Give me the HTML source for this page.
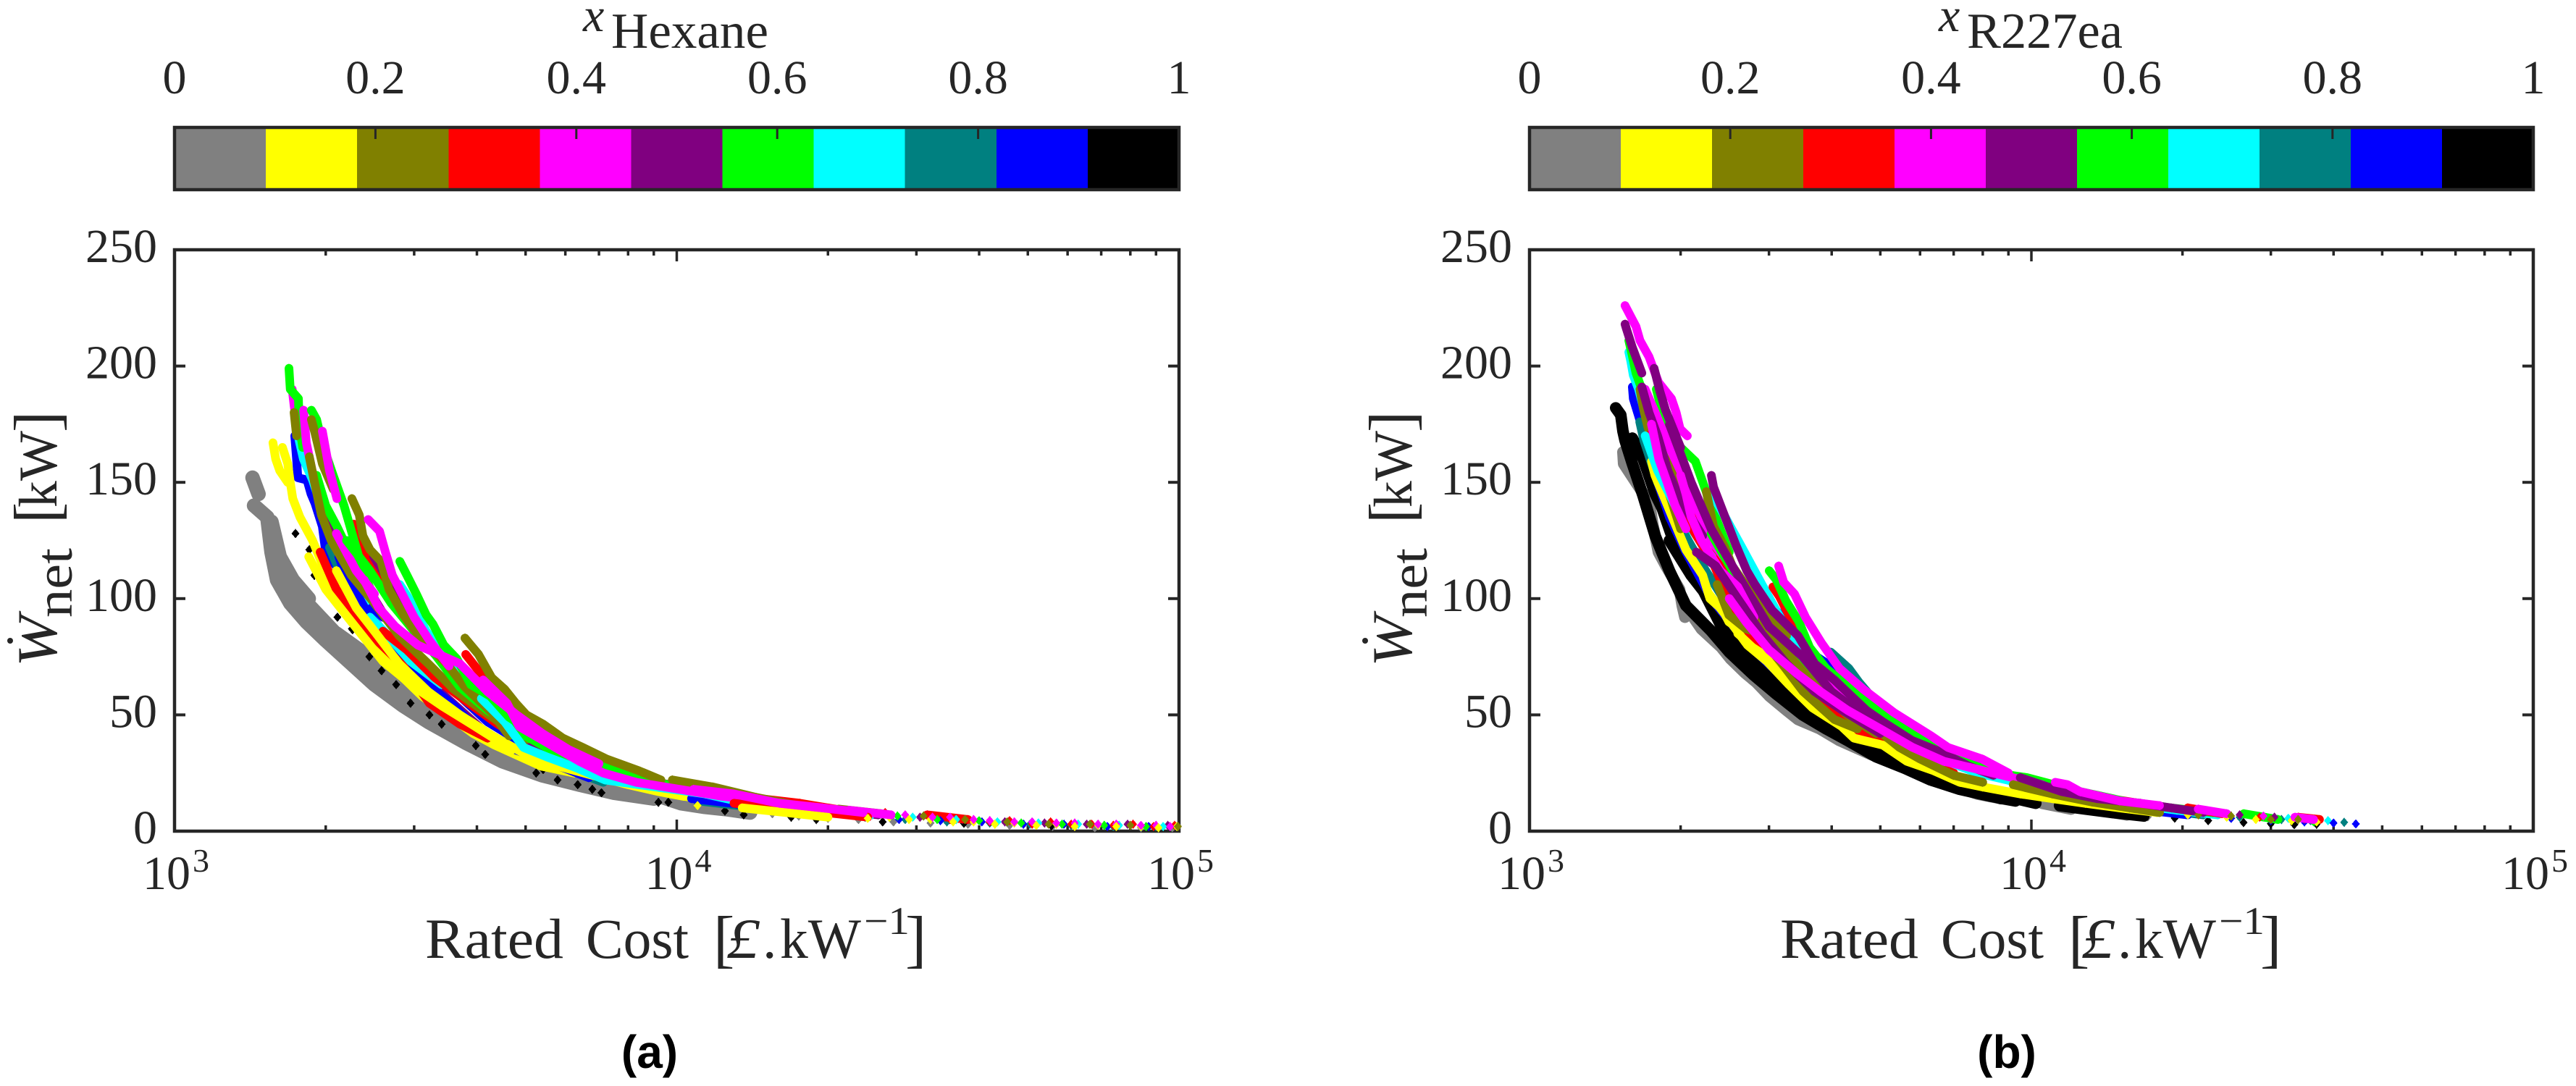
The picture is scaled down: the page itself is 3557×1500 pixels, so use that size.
<!DOCTYPE html>
<html lang="en">
<head>
<meta charset="utf-8">
<title>Net power versus rated cost, coloured by mixture composition</title>
<style>
html,body{margin:0;padding:0;background:#fff;}
svg{display:block;}
text{font-family:"Liberation Serif",serif;fill:#262626;}
.panel-tag{font-family:"Liberation Sans",sans-serif;font-weight:700;fill:#000;}
</style>
</head>
<body>
<svg id="figure" xmlns="http://www.w3.org/2000/svg" width="3557" height="1500" viewBox="0 0 3557 1500"></svg>
<script>
const aGray=[1430,152,1470,145, 1440,140,1530,135,1560,120,1600,108,1700,98,1830,90,2000,82,2250,72,2500,63,2850,54,3200,47,3800,38,4500,30,5400,24,6400,20,7500,16.5,9000,14, 1560,133,1620,118,1720,108,1850,100, 1650,112,1800,100,1950,92,2200,80,2450,70,2750,62,3100,53,3600,45,4200,37,5000,30,6000,24,7200,19,8600,16, 2100,85,2400,76,2700,68,3000,60,3500,50,4100,41,4900,33,5900,27,7000,22,8400,18, 10200,12,11300,10.5,12500,9.5,14000,8,15500,7.5,17500,6.5,20000,5.5,23000,5,27000,4,32000,3.5,38000,3,46000,2.5,56000,2,68000,1.5,84000,1.5,97000,1.5];
const aBlack=[1741,128,1855,121,1898,110,1950,109,2110,92,2255,87,2262,86.6,2443,75,2584,69,2762,63,2951,55,3218,50,3404,46,3980,36.8,4155,33,5250,25,5420,26.5,5790,22,6350,20,6790,18,7080,16.5,9190,12.4,9620,12.4,12470,8.7,13590,7,16900,6,18960,5,25700,4,37300,3.4,55700,2.3];
const aYellow=[1570,167,1590,160,1620,155,1680,150, 1640,165,1680,158,1700,150, 1720,143,1777,135,1883,125,2000,111,2175,98,2492,79,2698,71,3112,58,3556,49,3930,42,4340,37,5365,28,6250,25, 1850,118,2000,104,2250,90,2600,73,3000,62,3400,54,3900,46,4700,35, 2100,112,2300,96,2500,86,2800,72,3200,60,3700,50,4300,41,5000,33,5800,28, 6800,24,8000,20,9200,17, 10300,15,12500,13,15200,10,18300,8.5,22000,7,26500,6,32000,5,39000,4,47000,3.5,57000,3,69000,2.5,84000,2,99000,2, 11000,11,13500,10,16500,8,20000,6,24000,5.5,29000,5,35500,4,43000,3,52000,2.5,62000,2,75000,2,91000,1.5];
const aBlue=[1735,170,1750,160,1760,152, 1836,151,1870,145,1904,141,1969,131, 2000,120,2200,108,2400,100,2600,92, 2124,118,2175,112,2420,94,2726,81,2913,70,3604,54,3915,46,4635,36,5990,27,6680,23, 3000,76,3300,66,3700,58,4200,47,5000,37,5800,30, 10700,14,12900,12,15700,9,19000,7.5,23000,6.5,27700,5,33500,4.5,40500,4,49000,3,59000,3,72000,2,87000,2];
const aTeal=[2035,122,2100,115,2250,100,2500,89,3133,64,3372,59,4155,42,4790,36,6550,24,7140,21, 3500,66,3900,54,4400,46,5100,38, 11000,13,13300,11,16200,9,19500,7,23700,6,28500,5,34500,4,42000,3.5,50500,3,61000,2.5,74000,2,90000,2];
const aCyan=[1747,174,1775,167,1806,160,1883,151,2035,129,2255,108,2411,99, 2809,106,2951,99,3170,86,3327,80, 2450,92,2611,86,2951,73,3400,63, 3400,78,3800,66,4300,54,5000,42,5800,34, 4083,57,4543,47,4955,36,5500,32,6350,27,7200,22, 11400,16,13800,12,16700,11,20200,8,24500,7,29500,6,36000,5,43500,4,52500,3.5,63000,3,76000,2.5,93000,2];
const aPurple=[1966,140,2150,124,2372,108,2630,92,2900,80,3296,62,3759,51,4442,37, 2492,118,2630,110,2900,93,3200,80, 3000,88,3300,76,3700,64,4200,53,4800,44,5500,37, 5100,36,5598,33,6300,30,7080,27,8000,23, 11700,17,14200,14,17200,11,20800,9,25200,7,30500,6,37000,5,45000,4,54000,3.5,65500,3,79000,3,95000,2.5];
const aRed=[2275,132,2372,123,2500,112,2700,100,2900,90,3100,82, 1950,120,2100,104,2420,86,2855,71,3218,55,3700,46,4200,40, 2600,86,2900,78,3300,66,3800,56,4400,46,5100,38,5900,31,6800,26, 3800,76,4030,69,4340,62,4635,55,4955,50,5295,45,5730,40,6330,35,7000,30,8200,24,9000,21, 12000,17,14600,14,17600,12,21300,9,26000,8,31500,7,38000,5,46000,4.5,55500,4,67000,3,81000,3,98000,2.5, 13000,12,16000,10,19800,8,24000,6,29000,5,35000,5,42000,4,51000,3,61000,3,74000,2.5,89000,2];
const aMagenta=[1715,190,1730,183,1760,172, 1807,181,1830,167,1900,150,1969,140, 1969,172,2035,155,2105,143, 2100,128,2300,112,2500,102, 2430,134,2560,129,2630,120,2716,110,3000,92,3218,82,3520,71, 2385,108,2551,96,2750,88,3050,80, 3700,72,4200,60,4800,50,5400,42,6100,35,7000,29, 4115,65,4590,55,4855,45,5730,36,6400,30,7140,25,8300,21, 12300,15,15000,13,18200,10,22000,9,26700,7,32300,6,39000,5,47000,4,57000,3.5,69000,3,84000,2.5,96000,2, 10800,18,13000,16,16000,12,19500,10,23500,8,28500,7,35000,6,42000,4.5,51000,4,62000,3.5,75000,3,90000,2.5];
const aGreen=[1690,199,1700,190, 1765,186,1770,175,1800,165, 1873,181,1918,177,1966,167,2070,153,2175,140,2372,112,2500,100, 1918,153,2000,140,2105,131,2250,118, 2200,125,2450,112,2700,98,3000,86,3300,76,3700,62,4200,52,4800,43,5500,36,6500,29, 2809,116,2903,110,3030,102,3170,93,3270,89,3437,80,3651,74,3890,63,4254,58,4635,49,5190,42,6000,35,6910,29,8000,24, 10500,18,12700,15,15500,12,18800,9.5,22800,8,27500,6.5,33000,5,40000,4.5,48500,3.5,58500,3,71000,2.5,86000,2];
const aOlive=[1730,180,1750,170, 1873,177,1905,171,1969,158,2070,147, 1855,161,1900,150,1960,136, 2050,125,2250,110,2500,98,2800,84,3200,72,3600,61,4100,52,4700,43,5400,36,6200,30, 2255,143,2333,136,2372,127,2450,121,2576,116,2673,104,2855,93,3112,82,3483,72,3787,62,4280,51,4635,41, 3787,83,4030,76,4280,66,4543,61,4780,55,5020,50,5420,46,5930,40,6500,36,7250,31,8400,26,9300,22, 9800,22,11800,19,14400,14.5,17400,11,21000,9.5,25500,7.5,31000,6.5,37500,5,45500,4,55000,3,66500,3,80000,2.5,99500,2];

const bGray=[1535,163,1540,158, 1735,141,1760,132,1807,120,1870,114, 1990,104,2015,97,2040,92, 2105,93,2200,87, 2412,79,2518,74,2690,68,2830,64,3010,58,3251,52,3428,48,3790,44,4146,39,4786,33,5530,28,5915,25,6455,22,7100,19,7800,16,8700,14, 9290,13,10510,12,12000,9.5,13930,8.7,15500,7,17060,6.2];
const bBlack=[1485,182,1520,179, 1535,172,1550,168,1603,158,1685,144,1780,127,1900,112,2050,97,2303,86,2500,77,2800,67,3100,59,3500,50,3900,44,4300,39,4900,32,5600,27,6300,22,7200,18,8300,15,9300,13, 1603,169,1685,160,1780,145,1837,139,1963,121,2213,104,2412,88,2664,75,3000,65,3251,58,3630,50,4000,43,4534,37,5000,32,5650,28,6500,23,7500,18,8700,14, 1900,125,2100,110,2400,94,2700,80,3100,65,3500,56,4100,45,4700,36,5400,30,6871,22,8054,18, 9300,14,10200,12,11380,11,12800,9.5,14500,8,16750,6.5,19300,5.6,22500,4.5,26460,3.7,30000,3.2,33400,2.8,37000,3];
const bBlue=[1603,191,1610,186, 1685,172,1707,169,1750,160,1800,150,1900,135,2050,120,2303,100,2550,88,2800,78,3200,66,3600,56,4100,49,4700,42,5400,34,6100,29,7000,24,8000,20, 2800,111,2950,103,3100,95,3300,88,3500,79,3984,71, 5720,45, 10000,18,12000,14,14500,11,17000,9,20500,7,25000,5.5,30000,4.5,35000,4,40000,3.5,44300,3.1];
const bTeal=[1658,176,1690,168,1800,150,1950,135,2200,115,2500,96,2800,85,3200,72, 3984,77,4328,70,4535,64,5060,52,5500,47,5970,42,6800,34,7800,28, 10800,18,13000,14,15500,12,18500,9,22000,7,26000,6,31500,5,36000,4.5,42000,3.8];
const bCyan=[1577,206,1592,202,1610,196, 1650,190,1720,175,1850,160,2000,150,2200,135, 1700,170,1800,155,1950,140,2100,130,2310,118, 2310,145,2455,135,2650,122,2905,106,3100,95,3300,85,3548,71,3900,62,4244,53,4700,47,5300,42,6000,36,6800,30,7800,25, 9800,20,11800,15,14000,13,16500,11,19500,9,23500,7,28000,6.5,32500,5.5,39000,4.5];
const bGreen=[1577,211,1600,205, 1630,197,1713,184,1789,170,1900,155, 1789,190,1850,178,2000,165,2140,159,2300,140,2500,120, 2300,128,2600,108,2900,92,3300,80,3800,64,4500,50,5400,40, 3004,112,3105,108,3243,99,3442,90,3615,79,3900,70,4430,60,4900,53,5355,47,6000,40,6600,36,7500,29,8500,25, 9800,23,12500,17,13800,15,16000,12,19000,10,23000,8,26500,7.5,31000,5,36500,4];
const bYellow=[1750,159,1778,153, 1995,127,2050,121,2213,110,2288,100,2429,95,2495,90,2830,82,3005,72, 2600,85,2900,76,3200,68, 2280,102,2436,94,2718,80,2973,73,3286,63,3665,53,4188,45,4430,40,5060,37,5650,30,6385,26,7200,21,8000,19, 9500,16,11000,14,12800,12,15000,10,17800,8,20500,7,24500,6,28000,5,33000,4.5,37000,4];
const bOlive=[1660,190,1685,182,1720,174, 1837,155,1899,145,2000,130, 1900,160,2050,140,2200,125, 2250,146,2326,131,2450,122,2535,114,2750,103,2905,98,3150,88,3251,84, 2600,110,2800,96,3100,82,3400,72,3800,60,4300,50,4900,42, 2366,106,2495,93,2700,87,2905,85,2973,80,3210,71,3511,60,4050,48,4500,44, 4943,44,5110,41,5460,36,6000,31,7000,24,8000,21, 9200,20,11000,16,13200,12.5,15700,10,18000,8,21500,7,25000,6.5,30000,5,34000,5];
const bRed=[1748,171,1790,160,1850,150, 2200,135,2400,118,2650,100,2900,90,3300,78,3800,64,4400,52,5200,42,6000,35, 2030,136,2326,115,2453,103,2630,89,2850,82,3147,76,3320,68,3594,58,4105,50,4580,42,5460,37,5915,34,6310,29,7000,25, 3055,105,3147,101,3286,93,3442,86,3511,81,3815,72,4200,62,4600,56,5100,48,5800,41,6600,34,7400,28, 10500,20,12000,16,14300,14,17500,11,20500,10,24000,7.5,28500,6,34000,6,37500,5];
const bPurple=[1550,218, 1560,216,1603,208,1674,197, 1771,199,1819,189,1867,181,2000,165, 1674,191,1730,180,1800,170,1886,155,2000,142,2213,127, 1900,175,2100,150,2300,130,2600,110,3000,88,3500,75,4000,60,4600,50,5400,41,6200,34, 2303,153,2326,148,2453,135,2578,123,2710,112,2813,106,3044,95,3428,84,3700,72,4050,65,4285,60,4688,52,5060,47,5780,39,6600,34,7500,28,8400,24, 2150,120,2350,114,2600,100,2900,85,3250,72,3700,60,4200,52,5000,42, 9500,23,11500,17,13500,14,16500,12,19000,10,22000,8,26000,7,30500,6,35000,5];
const bMagenta=[1550,226, 1630,217,1660,211,1730,204,1807,193, 1918,186,1960,180,1995,173,2063,170, 1700,190,1780,180,1900,165,2100,145,2300,125,2500,115,2800,100,3200,84,3700,68,4300,57,5000,47,5800,39, 1750,175,1810,160,1880,150,1950,140,2050,130, 2000,153,2050,145,2100,135,2200,125,2400,112,2600,105,2800,92, 3136,114,3210,107,3373,102,3548,92,3815,81,4146,70,4628,61,5320,51,6310,41,6823,36,7980,31,9000,25, 2500,100,2700,90,3000,78,3400,68,3800,60,4300,52,5000,44,5800,36,6700,30, 10500,20,11160,21,11800,20,12500,17,15000,13,18000,11,21500,9.5,24500,7.5,29000,6.5,33500,6,36500,5];

// Colour bins for the composition scale, lowest fraction first.
const binColors=['#808080','#ffff00','#808000','#ff0000','#ff00ff','#800080','#00ff00','#00ffff','#008080','#0000ff','#000000'];
const barTickValues=[0,0.2,0.4,0.6,0.8,1];
const barTickLabels=['0','0.2','0.4','0.6','0.8','1'];
const yTickValues=[0,50,100,150,200,250];
const xDecades=[3,4,5];
const xMinorFactors=[2,3,4,5,6,7,8,9];

const NS='http://www.w3.org/2000/svg';
const INK='#262626';
const svg=document.getElementById('figure');
const plotTop=345,plotBottom=1148,maxPower=250;
const yOf=w=>plotBottom-(w/maxPower)*(plotBottom-plotTop);

function add(parent,tag,attrs,text){
  const el=document.createElementNS(NS,tag);
  for(const k in attrs)el.setAttribute(k,attrs[k]);
  if(text!==undefined)el.textContent=text;
  parent.appendChild(el);
  return el;
}

function label(parent,name,x,y,size,str,extra){
  const el=add(parent,'text',Object.assign({x:x,y:y,'font-size':size},extra||{}),str);
  
  
  return el;
}

// Splits a series into runs of neighbouring points that read as one dense streak.
function toRuns(s,xOf){
  const runs=[];
  let cur=null;
  for(let i=0;i+1<s.data.length;i+=2){
    const p=[xOf(s.data[i]),yOf(s.data[i+1])];
    let joined=false;
    if(cur&&s.linked){
      const q=cur[cur.length-1];
      const ddx=p[0]-q[0],ddy=p[1]-q[1];
      joined=ddx>0&&ddy>0&&Math.hypot(ddx,ddy)<140&&ddy/ddx>0.1;
    }
    if(joined){cur.push(p);}else{cur=[p];runs.push(cur);}
  }
  return runs;
}

function drawRun(g,run,s,seriesId){
  if(run.length>1){
    const d='M'+run.map(p=>p[0].toFixed(1)+' '+p[1].toFixed(1)).join('L');
    const line=add(g,'path',{d:d,fill:'none',stroke:s.color,'stroke-width':s.width||12,'stroke-linecap':'round','stroke-linejoin':'round'});
    
    
  }
  run.forEach(p=>{
    const pts=[p[0]-5.5,p[1],p[0],p[1]-6.5,p[0]+5.5,p[1],p[0],p[1]+6.5].map(v=>v.toFixed(1)).join(' ');
    const m=add(g,'polygon',{points:pts,fill:s.color,'shape-rendering':'crispEdges'});
    
    
  });
}

function drawPanel(cfg){
  const left=cfg.left,right=cfg.right,dx=cfg.left-241;
  const decadeWidth=(right-left)/2;
  const xOf=c=>left+(Math.log10(c)-3)*decadeWidth;
  const panel=add(svg,'g',{});
  
  

  // colour bar
  const bar=add(panel,'g',{});
  
  
  const barW=(right-left)/binColors.length;
  binColors.forEach((color,i)=>{
    const seg=add(bar,'rect',{x:left+i*barW,y:176,width:barW+0.5,height:86,fill:color,'shape-rendering':'crispEdges'});
    
    
  });
  const barFrame=add(bar,'rect',{x:left,y:176,width:right-left,height:86,fill:'none',stroke:INK,'stroke-width':4.5});
  
  
  barTickValues.forEach((v,i)=>{
    const px=left+v*(right-left);
    if(v>0&&v<1){
      const t=add(bar,'line',{x1:px,x2:px,y1:178,y2:192,stroke:INK,'stroke-width':3});
      
      
    }
    label(bar,'colorbar-tick-label',px,129,66,barTickLabels[i],{'text-anchor':'middle'});
  });
  label(bar,'colorbar-title-symbol',805+dx+cfg.titleShift,43,66,'x',{'font-style':'italic'});
  label(bar,'colorbar-title-subscript',844+dx+cfg.titleShift,66,70,cfg.title,{textLength:cfg.titleWidth,lengthAdjust:'spacingAndGlyphs'});

  // axes frame and ticks
  const frame=add(panel,'rect',{x:left,y:plotTop,width:right-left,height:plotBottom-plotTop,fill:'#fff',stroke:INK,'stroke-width':4.5});
  
  
  yTickValues.forEach(v=>{
    const py=yOf(v);
    [[left,left+15],[right,right-15]].forEach(p=>{
      const t=add(panel,'line',{x1:p[0],x2:p[1],y1:py,y2:py,stroke:INK,'stroke-width':4});
      
      
    });
    label(panel,'y-tick-label',left-24,py+17,66,String(v),{'text-anchor':'end'});
  });
  xDecades.forEach((d,i)=>{
    const px=xOf(Math.pow(10,d));
    [[plotTop,plotTop+16],[plotBottom,plotBottom-16]].forEach(p=>{
      const t=add(panel,'line',{x1:px,x2:px,y1:p[0],y2:p[1],stroke:INK,'stroke-width':3.5});
      
      
    });
    label(panel,'x-tick-label-base',px-44,1228,66,'10');
    label(panel,'x-tick-label-exponent',px+25,1204,46,String(d));
    if(i<xDecades.length-1){
      xMinorFactors.forEach(f=>{
        const mx=xOf(f*Math.pow(10,d));
        [[plotTop,plotTop+8],[plotBottom,plotBottom-8]].forEach(p=>{
          const t=add(panel,'line',{x1:mx,x2:mx,y1:p[0],y2:p[1],stroke:INK,'stroke-width':3.5});
          
          
        });
      });
    }
  });

  // axis titles
  const xTitle=add(panel,'g',{});
  
  
  label(xTitle,'x-title-rated',587+dx,1323,78,'Rated',{textLength:191,lengthAdjust:'spacingAndGlyphs'});
  label(xTitle,'x-title-cost',809+dx,1323,78,'Cost',{textLength:142,lengthAdjust:'spacingAndGlyphs'});
  label(xTitle,'x-title-open-bracket',985+dx,1326,88,'[');
  label(xTitle,'x-title-pound',1003+dx,1323,78,'£',{'font-style':'italic',textLength:46,lengthAdjust:'spacingAndGlyphs'});
  label(xTitle,'x-title-dot',1053+dx,1323,78,'.');
  label(xTitle,'x-title-unit',1077+dx,1323,78,'kW',{textLength:112,lengthAdjust:'spacingAndGlyphs'});
  label(xTitle,'x-title-exponent',1193+dx,1290,54,'−1',{textLength:63,lengthAdjust:'spacingAndGlyphs'});
  label(xTitle,'x-title-close-bracket',1250+dx,1326,88,']');

  const yTitle=add(panel,'g',{transform:'translate('+(78+dx)+',921) rotate(-90)'});
  
  
  label(yTitle,'y-title-power',0,0,78,'W',{'font-style':'italic',textLength:71,lengthAdjust:'spacingAndGlyphs'});
  const dot=add(yTitle,'circle',{cx:36,cy:-64,r:4,fill:INK});
  
  
  label(yTitle,'y-title-subscript',68,21,72,'net',{textLength:96,lengthAdjust:'spacingAndGlyphs'});
  label(yTitle,'y-title-open-bracket',198,2,88,'[');
  label(yTitle,'y-title-unit',220,0,75,'kW',{textLength:106,lengthAdjust:'spacingAndGlyphs'});
  label(yTitle,'y-title-close-bracket',324,2,88,']');

  // scatter: base series first, the rest interleaved run by run so the colours mix
  const scatter=add(panel,'g',{});
  
  
  const prepared=cfg.series.map(s=>({s:s,runs:toRuns(s,xOf),id:cfg.id+'-'+s.name}));
  prepared.filter(p=>p.s.base).forEach(p=>p.runs.forEach(r=>drawRun(scatter,r,p.s,p.id)));
  const upper=prepared.filter(p=>!p.s.base);
  const rounds=Math.max.apply(null,upper.map(p=>p.runs.length));
  for(let r=0;r<rounds;r++){
    upper.forEach(p=>{
      if(p.runs[r])drawRun(scatter,p.runs[r],p.s,p.id);
    });
  }

  label(panel,'panel-label',cfg.tagX,1475,64,cfg.tag,{'text-anchor':'middle',class:'panel-tag'});
}

drawPanel({id:'hexane',left:241,right:1628,title:'Hexane',titleWidth:217,titleShift:0,tag:'(a)',tagX:897,series:[
  {name:'gray',color:'#808080',data:aGray,linked:true,base:true,width:20},
  {name:'black',color:'#000000',data:aBlack,linked:false,base:true},
  {name:'yellow',color:'#ffff00',data:aYellow,linked:true},
  {name:'blue',color:'#0000ff',data:aBlue,linked:true},
  {name:'teal',color:'#008080',data:aTeal,linked:true},
  {name:'cyan',color:'#00ffff',data:aCyan,linked:true},
  {name:'purple',color:'#800080',data:aPurple,linked:true},
  {name:'red',color:'#ff0000',data:aRed,linked:true},
  {name:'magenta',color:'#ff00ff',data:aMagenta,linked:true},
  {name:'green',color:'#00ff00',data:aGreen,linked:true},
  {name:'olive',color:'#808000',data:aOlive,linked:true}
]});
drawPanel({id:'r227ea',left:2112,right:3498,title:'R227ea',titleWidth:215,titleShift:1,tag:'(b)',tagX:2771,series:[
  {name:'gray',color:'#808080',data:bGray,linked:true,base:true,width:16},
  {name:'black',color:'#000000',data:bBlack,linked:true,base:true,width:16},
  {name:'blue',color:'#0000ff',data:bBlue,linked:true},
  {name:'teal',color:'#008080',data:bTeal,linked:true},
  {name:'cyan',color:'#00ffff',data:bCyan,linked:true},
  {name:'green',color:'#00ff00',data:bGreen,linked:true},
  {name:'yellow',color:'#ffff00',data:bYellow,linked:true},
  {name:'olive',color:'#808000',data:bOlive,linked:true},
  {name:'red',color:'#ff0000',data:bRed,linked:true},
  {name:'purple',color:'#800080',data:bPurple,linked:true},
  {name:'magenta',color:'#ff00ff',data:bMagenta,linked:true}
]});
</script>
</body>
</html>
